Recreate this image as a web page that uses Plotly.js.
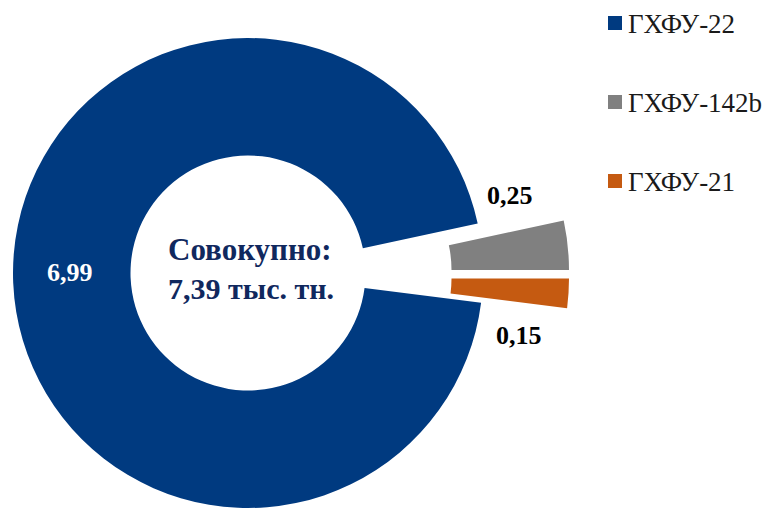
<!DOCTYPE html>
<html>
<head>
<meta charset="utf-8">
<script src="https://cdn.plot.ly/plotly-3.0.1.min.js"></script>
<style>
  html, body { margin: 0; padding: 0; overflow: hidden; background: #fff; }
  /* plot area is larger than the window so the exploded slices fit in their domains */
  #chart { position: absolute; left: -80px; top: -60px; width: 1000px; height: 700px; }
</style>
</head>
<body>
<div id="chart"></div>
<script>
// ГХФУ, тыс. тонн
const labels = ['ГХФУ-22', 'ГХФУ-142b', 'ГХФУ-21'];
const values = [6.99, 0.25, 0.15];
const colors = ['#003a80', '#808080', '#c55a11'];
const centerTitle = 'Совокупно:';
const unitLabel = 'тыс. тн.';

const FONT = 'Times New Roman, Liberation Serif, serif';
const W = 1000, H = 700;
const OX = 80, OY = 60;
const cx = 248, cy = 273, R = 235;   // donut in window pixels
// how far each slice is moved out (window pixels), like Excel's point explosion
const explode = [[0, 0], [86, -3], [86, 5.5]];

// window pixels -> paper coords of the oversized plot
const px = x => (x + OX) / W;
const py = y => 1 - (y + OY) / H;

const fmt = v => v.toFixed(2).replace('.', ',');
const total = values.reduce((a, b) => a + b, 0);

// one pie per slice, the other slices transparent, each with its own shifted domain
const traces = values.map((v, i) => {
    const x0 = cx + explode[i][0], y0 = cy + explode[i][1];
    return {
        type: 'pie',
        labels: labels,
        values: values,
        sort: false,
        direction: 'clockwise',
        rotation: 97.3,
        hole: 0.5,
        domain: {
            x: [px(x0 - R), px(x0 + R)],
            y: [py(y0 + R), py(y0 - R)]
        },
        marker: {
            colors: colors.map((c, j) => j === i ? c : 'rgba(0,0,0,0)'),
            line: { width: 0 }
        },
        textinfo: 'none',
        hoverinfo: 'none'
    };
});

const annotations = [];
const shapes = [];

// center caption
annotations.push({
    xref: 'paper', yref: 'paper', x: px(250), y: py(249.5),
    xanchor: 'center', yanchor: 'middle',
    text: '<b>' + centerTitle + '</b>', showarrow: false,
    font: { family: FONT, size: 31, color: '#10285e' }
});
annotations.push({
    xref: 'paper', yref: 'paper', x: px(251), y: py(288.5),
    xanchor: 'center', yanchor: 'middle',
    text: '<b>' + fmt(total) + ' ' + unitLabel + '</b>', showarrow: false,
    font: { family: FONT, size: 30, color: '#10285e' }
});

// slice values
const labelPos = [[70, 272.5], [510, 196], [519, 335]];
const labelColor = ['#ffffff', '#000000', '#000000'];
values.forEach((v, i) => {
    annotations.push({
        xref: 'paper', yref: 'paper', x: px(labelPos[i][0]), y: py(labelPos[i][1]),
        xanchor: 'center', yanchor: 'middle',
        text: '<b>' + fmt(v) + '</b>', showarrow: false,
        font: { family: FONT, size: 26, color: labelColor[i] }
    });
});

// legend
labels.forEach((lab, i) => {
    const y = 23 + i * 79;
    shapes.push({
        type: 'rect', xref: 'paper', yref: 'paper',
        x0: px(608), x1: px(622), y0: py(y - 7), y1: py(y + 7),
        fillcolor: colors[i], line: { width: 0 }
    });
    annotations.push({
        xref: 'paper', yref: 'paper', x: px(626), y: py(y + 1),
        xanchor: 'left', yanchor: 'middle',
        text: lab, showarrow: false,
        font: { family: FONT, size: 27, color: '#1a1a1a' }
    });
});

const layout = {
    width: W,
    height: H,
    margin: { l: 0, r: 0, t: 0, b: 0 },
    paper_bgcolor: '#ffffff',
    showlegend: false,
    annotations: annotations,
    shapes: shapes
};

Plotly.newPlot('chart', traces, layout, { displayModeBar: false, staticPlot: true });
</script>
</body>
</html>
